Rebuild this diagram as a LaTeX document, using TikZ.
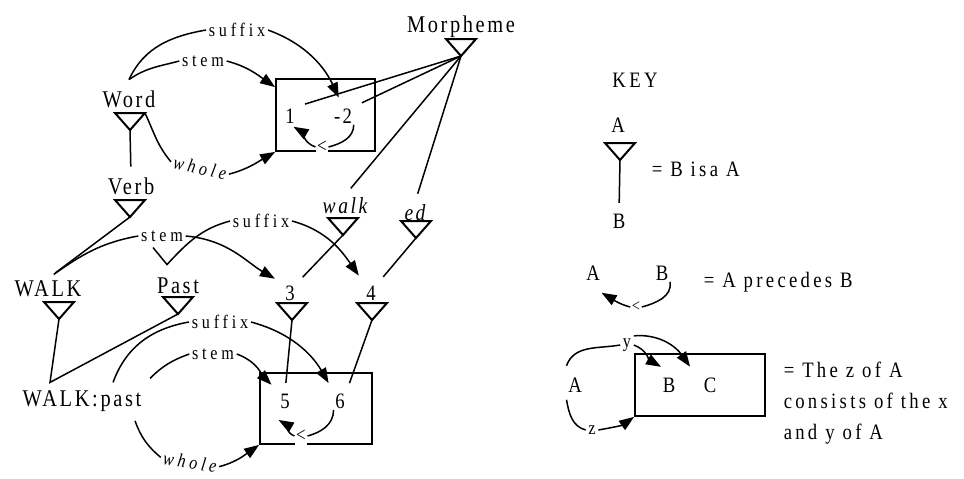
\documentclass[tikz,border=0pt]{standalone}
\usepackage{fontspec}
\setmainfont{Liberation Serif}[FakeStretch=0.85, LetterSpace=11]
\newfontfamily\keyfont{Liberation Serif}[FakeStretch=0.85, LetterSpace=15]
\newfontfamily\relfont{Liberation Serif}[FakeStretch=0.85, LetterSpace=20]
\usetikzlibrary{arrows.meta,positioning}
\tikzset{
  isatri/.pic={
    \draw[line width=2pt] (-15,0) -- (15,0) -- (0,-17) -- cycle;
    \coordinate (-apex) at (0,-17);
    \coordinate (-r) at (15,0);
  }
}

\begin{document}
\begin{tikzpicture}[x=1pt, y=1pt, line width=1.5pt,
  >={Triangle[length=15pt,width=11pt]},
  lbl/.style={font=\fontsize{24}{28}\selectfont, inner sep=1pt, anchor=base},
  klbl/.style={font=\fontsize{22}{31}\keyfont, inner sep=1pt, anchor=base},
  num/.style={font=\fontsize{22}{26}\selectfont, inner sep=1pt, anchor=base},
  rel/.style={font=\fontsize{19}{22}\relfont, inner sep=2pt},
  relit/.style={font=\fontsize{19}{22}\relfont\itshape, inner sep=2pt},
  precl/.style={font=\fontsize{20}{22}\selectfont, inner sep=1pt, fill=white},
  isaln/.style={shorten >=9pt},
  tonum/.style={->, shorten >=10pt},
  wbox/.style={draw, line width=1.8pt, inner sep=0pt}]
  \useasboundingbox (0,0) rectangle (964,-479);

  % Word and its two morphs
  \node[lbl] (morph) at (461,-32) {Morpheme};
  \pic (morphT) at (461,-39) {isatri};
  \node[lbl] (word) at (129,-107) {Word};
  \pic (wordT) at (130,-113) {isatri};
  \node[lbl] (verb) at (131,-194) {Verb};
  \pic (verbT) at (130,-200) {isatri};
  \draw[isaln] (wordT-apex) -- (verb.north);

  \node[wbox, minimum width=99pt, minimum height=72pt] (box1) at (325.5,-115) {};
  \node[num] (one) at (290,-123) {1};
  \node[num] (mtwo) at (343,-123) {-2};
  \node[precl] (lt1) at (322,-147) {<};
  \draw (mtwo.south east) to[out=-90,in=15] (lt1.east);
  \draw[->, shorten >=4pt] (lt1.west) to[out=160,in=-30] (one.south);

  \coordinate (wtop) at ([yshift=9pt]word.north);
  \node[rel] (sfx1) at (237,-30) {suffix};
  \node[rel] (stem1) at (203,-61) {stem};
  \node[relit, rotate=-12] (whole1) at (200,-168) {whole};
  \draw (wtop) to[out=65,in=190] (sfx1.west);
  \draw[tonum] (sfx1.east) to[out=-20,in=115] (mtwo.north);
  \draw (wtop) to[out=35,in=195] (stem1.west);
  \draw[->] (stem1.east) to[out=-15,in=145] ([yshift=-9pt]box1.north west);
  \draw (wordT-r) to[out=-65,in=130] (whole1.west);
  \draw[->] (whole1.east) to[out=15,in=210] (box1.south west);

  % lexemes WALK and Past
  \node[lbl] (walkc) at (48,-296) {WALK};
  \pic (walkcT) at (59,-302) {isatri};
  \node[lbl] (past) at (178,-293) {Past};
  \pic (pastT) at (178,-297) {isatri};
  \draw[isaln] (verbT-apex) -- (walkc.north);
  \node[rel] (stem2) at (162,-236) {stem};
  \node[rel] (sfx2) at (261,-221) {suffix};
  \draw[shorten <=7pt] (walkc.north) to[out=35,in=190] (stem2.west);
  \coordinate (vB) at ([shift={(-11,11)}]past.north);
  \coordinate (vL) at ([shift={(-25,28)}]past.north);
  \draw (vL) -- (vB) to[out=47,in=195] (sfx2.west);

  % morphs walk and ed
  \node[lbl, font=\fontsize{23}{26}\selectfont\itshape] (walkm) at (345,-213) {walk};
  \pic (walkmT) at (343,-218) {isatri};
  \node[lbl, font=\fontsize{23}{26}\selectfont\itshape] (ed) at (415,-220) {ed};
  \pic (edT) at (416,-221) {isatri};
  \draw[isaln] (morphT-apex) -- (one.north east);
  \draw[isaln] (morphT-apex) -- (mtwo.north east);
  \draw[isaln] (morphT-apex) -- (walkm.north);
  \draw[isaln] (morphT-apex) -- (ed.north);

  \node[num] (three) at (290,-300) {3};
  \pic (threeT) at (292,-303) {isatri};
  \node[num] (four) at (371,-300) {4};
  \pic (fourT) at (372,-303) {isatri};
  \draw[tonum] (stem2.east) to[out=-5,in=150] (three.north west);
  \draw[tonum] (sfx2.east) to[out=-15,in=125] (four.north west);
  \draw[isaln] (walkmT-apex) -- (three.north east);
  \draw[isaln] (edT-apex) -- (four.north east);

  % WALK:past and its parts
  \node[lbl] (walkp) at (82,-406) {WALK:past};
  \coordinate (wpjoin) at ([shift={(-32,6)}]walkp.north);
  \draw (walkcT-apex) -- (wpjoin) -- (pastT-apex);

  \node[wbox, minimum width=112pt, minimum height=71pt] (box2) at (316,-408.5) {};
  \node[num] (five) at (285,-408) {5};
  \node[num] (six) at (340,-408) {6};
  \node[precl, inner ysep=5pt] (lt2) at (301,-436) {<};
  \draw[isaln] (threeT-apex) -- (five.north);
  \draw[isaln] (fourT-apex) -- (six.north east);
  \draw (six.south west) to[out=-90,in=15] (lt2.east);
  \draw[->] (lt2.west) to[out=160,in=-30] ([yshift=-10pt]five.south west);

  \node[rel] (sfx3) at (220,-322) {suffix};
  \node[rel] (stem3) at (213,-354) {stem};
  \node[relit, rotate=-9] (whole2) at (190,-462) {whole};
  \draw ([shift={(-30,6)}]walkp.north east) to[out=70,in=190] (sfx3.west);
  \draw[tonum] (sfx3.east) to[out=-15,in=120] (six.north west);
  \draw ([shift={(7,10)}]walkp.north east) to[out=45,in=200] (stem3.west);
  \draw[tonum] (stem3.east) to[out=-20,in=135] (five.north west);
  \draw ([shift={(-8,-8)}]walkp.south east) to[out=-70,in=140] (whole2.west);
  \draw[->] (whole2.east) to[out=15,in=215] (box2.south west);

  % key
  \node[klbl] (key) at (635,-87) {KEY};
  \node[klbl] (kA1) at (618,-132) {A};
  \pic (kT) at (620,-143) {isatri};
  \node[klbl] (kB1) at (619,-228) {B};
  \draw[isaln] (kT-apex) -- (kB1.north);
  \node[klbl, anchor=base west] (kisa) at (650,-176) {= B isa A};

  \node[klbl] (kA2) at (593,-280) {A};
  \node[klbl] (kB2) at (662,-280) {B};
  \node[precl, font=\fontsize{17}{18}\selectfont] (klt) at (636,-307) {<};
  \draw (kB2.south east) to[out=-80,in=15] (klt.east);
  \draw[->] (klt.west) to[out=165,in=-30] ([yshift=-11pt]kA2.south east);
  \node[klbl, anchor=base west] (kprec) at (702,-287) {= A precedes B};

  \node[wbox, minimum width=130pt, minimum height=62pt] (kbox) at (700,-385) {};
  \node[klbl] (kB3) at (669,-392) {B};
  \node[klbl] (kC3) at (710,-392) {C};
  \node[klbl] (kA3) at (575,-392) {A};
  \node[rel] (ky) at (627,-345) {y};
  \node[rel] (kz) at (592,-430) {z};
  \draw ([yshift=10pt]kA3.north west) to[out=70,in=190] (ky.west);
  \draw[->] (ky.east) to[out=-20,in=150] ([yshift=9pt]kB3.north west);
  \draw[->] (ky.north east) to[out=5,in=125] ([shift={(-12,9)}]kC3.north west);
  \draw ([yshift=-6pt]kA3.south west) to[out=-80,in=165] (kz.west);
  \draw[->] (kz.east) to[out=10,in=215] (kbox.south west);
  \node[klbl, anchor=north west, align=left] (kcons) at (782,-360)
    {= The z of A\\consists of the x\\and y of A};
\end{tikzpicture}
\end{document}
